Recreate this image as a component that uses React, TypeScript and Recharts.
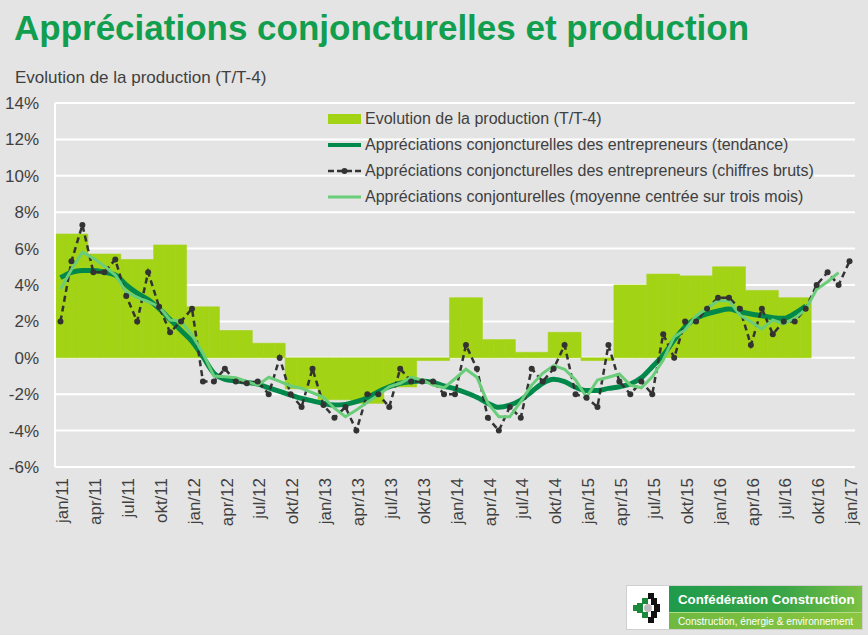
import React from 'react';
import { ComposedChart, Bar, Line, XAxis, YAxis, CartesianGrid, Legend } from 'recharts';

const MONTH_NAMES = ['jan', 'feb', 'mar', 'apr', 'maj', 'jun', 'jul', 'aug', 'sep', 'okt', 'nov', 'dec'];
const YEARS = ['11', '12', '13', '14', '15', '16'];
const LAST_MONTH = 'jan/17';
const Y_TICKS = [-6, -4, -2, 0, 2, 4, 6, 8, 10, 12, 14];

// Evolution de la production (T/T-4), one value per quarter, 2011K1 .. 2016K4
const PRODUCTION = [
  6.8, 5.7, 5.4, 6.2, 2.8, 1.5, 0.8, -1.7, -2.3, -2.5, -1.6, -0.15,
  3.3, 1.0, 0.3, 1.4, -0.15, 4.0, 4.6, 4.5, 5.0, 3.7, 3.3, null,
];

// tendance, monthly jan/11 .. sep/16
const TREND = [
  4.4, 4.7, 4.8, 4.8, 4.7, 4.55, 4.0, 3.55, 3.2, 2.7, 2.1, 1.5,
  0.9, 0.05, -0.85, -1.18, -1.27, -1.35, -1.45, -1.65, -1.85, -2.05, -2.23, -2.37,
  -2.5, -2.6, -2.56, -2.41, -2.19, -1.86, -1.59, -1.4, -1.31, -1.27, -1.35, -1.55,
  -1.71, -1.92, -2.17, -2.5, -2.72, -2.6, -2.32, -1.86, -1.4, -1.18, -1.31, -1.62,
  -1.8, -1.8, -1.68, -1.59, -1.44, -1.1, -0.49, 0.15, 0.98, 1.71, 2.17, 2.41,
  2.57, 2.68, 2.53, 2.41, 2.31, 2.2, 2.17, 2.44, 2.85,
];

// chiffres bruts, monthly jan/11 .. jan/17
const RAW = [
  2.0, 5.3, 7.3, 4.7, 4.7, 5.4, 3.4, 2.0, 4.7, 2.8, 1.4, 2.0,
  2.7, -1.3, -1.3, -0.6, -1.3, -1.4, -1.3, -2.0, 0.0, -2.0, -2.7, -0.6,
  -2.6, -3.3, -2.7, -4.0, -2.0, -2.0, -2.7, -0.6, -1.3, -1.3, -1.3, -2.0,
  -2.0, 0.7, -0.6, -3.3, -4.0, -2.7, -3.3, -0.6, -1.3, -0.6, 0.7, -2.0,
  -2.2, -2.7, 0.7, -1.3, -2.0, -1.3, -2.0, 1.3, 0.0, 2.0, 2.0, 2.7,
  3.3, 3.3, 2.7, 0.7, 2.7, 1.3, 2.0, 2.0, 2.7, 4.0, 4.7, 4.0,
  5.3,
];

// moyenne centrée sur trois mois, monthly jan/11 .. dec/16
const AVG3 = [
  3.76, 4.85, 5.8, 5.47, 5.04, 4.55, 3.63, 3.32, 3.08, 2.81, 2.08, 2.02,
  1.25, 0.25, -1.0, -1.04, -1.1, -1.3, -1.5, -1.07, -1.3, -1.55, -1.68, -1.92,
  -2.17, -2.77, -3.24, -2.87, -2.45, -2.04, -1.59, -1.4, -1.07, -1.22, -1.5, -1.65,
  -1.15, -0.63, -1.07, -2.5, -3.24, -3.24, -2.41, -1.5, -0.85, -0.43, -0.63, -1.22,
  -2.17, -1.22, -1.07, -0.89, -1.5, -1.65, -1.04, -0.12, 1.16, 1.53, 2.3, 2.72,
  3.14, 3.14, 2.35, 1.98, 1.58, 2.08, 1.86, 2.17, 2.66, 3.76, 4.18, 4.68,
];

const SERIES_NAMES = {
  prod: 'Evolution de la production (T/T-4)',
  trend: 'Appréciations conjoncturelles des entrepreneurs (tendance)',
  raw: 'Appréciations conjoncturelles des entrepreneurs (chiffres bruts)',
  avg: 'Appréciations conjonturelles (moyenne centrée sur trois mois)',
};
const LEGEND_ORDER = ['prod', 'trend', 'raw', 'avg'];

const BG = '#e4e4e4';
const BAR_COLOR = '#a3d315';
const TREND_COLOR = '#00894a';
const RAW_COLOR = '#333333';
const AVG_COLOR = '#6acd7a';
const TEXT = '#404040';

const MONTHS = YEARS.flatMap((yy) => MONTH_NAMES.map((m) => `${m}/${yy}`)).concat(LAST_MONTH);

const data = MONTHS.map((month, i) => ({
  month,
  prod: i < PRODUCTION.length * 3 ? PRODUCTION[Math.floor(i / 3)] : null,
  trend: i < TREND.length ? TREND[i] : null,
  raw: i < RAW.length ? RAW[i] : null,
  avg: i < AVG3.length ? AVG3[i] : null,
}));

function MonthTick(props: any) {
  const { x, y, payload } = props;
  return (
    <text
      x={x}
      y={y}
      dy="0.45em"
      transform={`rotate(-90 ${x} ${y})`}
      textAnchor="end"
      fontSize={17}
      fill={TEXT}
    >
      {payload.value}
    </text>
  );
}

function LegendIcon({ id }: { id: string }) {
  if (id === 'prod') {
    return <div style={{ width: 33, height: 10, background: BAR_COLOR }} />;
  }
  const color = id === 'trend' ? TREND_COLOR : id === 'raw' ? RAW_COLOR : AVG_COLOR;
  return (
    <svg width={33} height={10} style={{ display: 'block' }}>
      <line
        x1={0}
        x2={33}
        y1={5}
        y2={5}
        stroke={color}
        strokeWidth={id === 'trend' ? 4 : id === 'raw' ? 2.5 : 3}
        strokeDasharray={id === 'raw' ? '6 3' : undefined}
      />
      {id === 'raw' && <circle cx={16.5} cy={5} r={3} fill={color} />}
    </svg>
  );
}

function renderLegend(props: any) {
  const items = [...(props.payload || [])].sort(
    (a: any, b: any) => LEGEND_ORDER.indexOf(a.dataKey) - LEGEND_ORDER.indexOf(b.dataKey),
  );
  return (
    <div>
      {items.map((entry: any) => (
        <div key={entry.dataKey} style={{ display: 'flex', alignItems: 'center', height: 26 }}>
          <LegendIcon id={entry.dataKey} />
          <span
            style={{
              marginLeft: 4,
              fontSize: 16,
              lineHeight: '16px',
              color: TEXT,
              whiteSpace: 'nowrap',
              background: `linear-gradient(to bottom, transparent 0, transparent 4px, ${BG} 4px)`,
            }}
          >
            {entry.value}
          </span>
        </div>
      ))}
    </div>
  );
}

function Logo() {
  return (
    <div
      style={{
        position: 'absolute',
        left: 626,
        top: 585,
        width: 237,
        height: 45,
        display: 'flex',
        background: '#fff',
        border: '1px solid #d0d0d0',
        boxSizing: 'border-box',
        fontFamily: '"Liberation Sans", Arial, sans-serif',
        whiteSpace: 'nowrap',
      }}
    >
      <div style={{ width: 42, display: 'flex', alignItems: 'center', justifyContent: 'center' }}>
        <svg width={30} height={34} viewBox="0 0 30 34">
          <rect x={4} y={12} width={6} height={10} fill="#1a8a3a" />
          <rect x={9} y={7} width={6} height={6} fill="#1a8a3a" />
          <rect x={9} y={21} width={6} height={6} fill="#1a8a3a" />
          <rect x={0} y={14} width={5} height={6} fill="#1a8a3a" />
          <rect x={15} y={2} width={6} height={6} fill="#111" />
          <rect x={18} y={7} width={6} height={7} fill="#111" />
          <rect x={21} y={13} width={6} height={8} fill="#111" />
          <rect x={18} y={20} width={6} height={7} fill="#111" />
          <rect x={15} y={26} width={6} height={6} fill="#111" />
          <circle cx={15} cy={17} r={4} fill="#bbb" />
        </svg>
      </div>
      <div style={{ flex: 1, display: 'flex', flexDirection: 'column', color: '#fff', overflow: 'hidden' }}>
        <div
          style={{
            height: 26,
            display: 'flex',
            alignItems: 'center',
            paddingLeft: 9,
            background: 'linear-gradient(to right, #1e9b4b, #3aa548 60%, #7cc142)',
            fontWeight: 'bold',
            fontSize: 13.3,
          }}
        >
          Confédération Construction
        </div>
        <div
          style={{
            flex: 1,
            display: 'flex',
            alignItems: 'center',
            paddingLeft: 9,
            borderTop: '1px solid #b5dc84',
            background: 'linear-gradient(to right, #6fb93f, #8cc640)',
            fontSize: 10.1,
          }}
        >
          Construction, énergie &amp; environnement
        </div>
      </div>
    </div>
  );
}

export default function App() {
  return (
    <div
      style={{
        position: 'absolute',
        left: 0,
        top: 0,
        width: 868,
        height: 635,
        overflow: 'hidden',
        background: BG,
        fontFamily: '"Liberation Sans", Arial, sans-serif',
      }}
    >
      <div
        style={{
          position: 'absolute',
          left: 14,
          top: 10,
          fontSize: 35,
          lineHeight: '35px',
          fontWeight: 'bold',
          color: '#119e4f',
          whiteSpace: 'nowrap',
        }}
      >
        Appréciations conjoncturelles et production
      </div>
      <div
        style={{
          position: 'absolute',
          left: 15,
          top: 69,
          fontSize: 17,
          lineHeight: '17px',
          color: TEXT,
          whiteSpace: 'nowrap',
        }}
      >
        Evolution de la production (T/T-4)
      </div>
      <div style={{ position: 'absolute', left: 0, top: 0 }}>
        <ComposedChart
          width={868}
          height={635}
          data={data}
          margin={{ top: 103, right: 13, bottom: 108, left: 0 }}
          barCategoryGap={0}
          barGap={0}
        >
          <CartesianGrid vertical={false} stroke="#ffffff" strokeWidth={2} />
          <XAxis
            dataKey="month"
            interval={2}
            axisLine={false}
            tickLine={false}
            tickSize={0}
            tickMargin={11}
            height={60}
            tick={<MonthTick />}
          />
          <YAxis
            domain={[-6, 14]}
            ticks={Y_TICKS}
            width={55}
            tickFormatter={(v) => `${v}%`}
            axisLine={{ stroke: '#ffffff', strokeWidth: 2 }}
            tickLine={false}
            tickSize={0}
            tickMargin={16}
            tick={{ fontSize: 17, fill: TEXT }}
          />
          <YAxis
            yAxisId="r"
            orientation="right"
            domain={[-6, 14]}
            width={0}
            tick={false}
            tickLine={false}
            axisLine={{ stroke: '#ffffff', strokeWidth: 2 }}
          />
          <Legend
            layout="vertical"
            align="center"
            verticalAlign="middle"
            content={renderLegend}
            wrapperStyle={{ left: 328, top: 106, width: 520, height: 104 }}
          />
          <Bar
            dataKey="prod"
            name={SERIES_NAMES.prod}
            fill={BAR_COLOR}
            stroke={BAR_COLOR}
            strokeWidth={0.6}
            isAnimationActive={false}
          />
          <Line
            type="monotone"
            dataKey="trend"
            name={SERIES_NAMES.trend}
            stroke={TREND_COLOR}
            strokeWidth={5}
            dot={false}
            isAnimationActive={false}
          />
          <Line
            type="linear"
            dataKey="raw"
            name={SERIES_NAMES.raw}
            stroke={RAW_COLOR}
            strokeWidth={2.5}
            strokeDasharray="6 4"
            dot={{ r: 3, fill: RAW_COLOR, stroke: 'none' }}
            isAnimationActive={false}
          />
          <Line
            type="linear"
            dataKey="avg"
            name={SERIES_NAMES.avg}
            stroke={AVG_COLOR}
            strokeWidth={3}
            dot={false}
            isAnimationActive={false}
          />
        </ComposedChart>
      </div>
      <Logo />
    </div>
  );
}
